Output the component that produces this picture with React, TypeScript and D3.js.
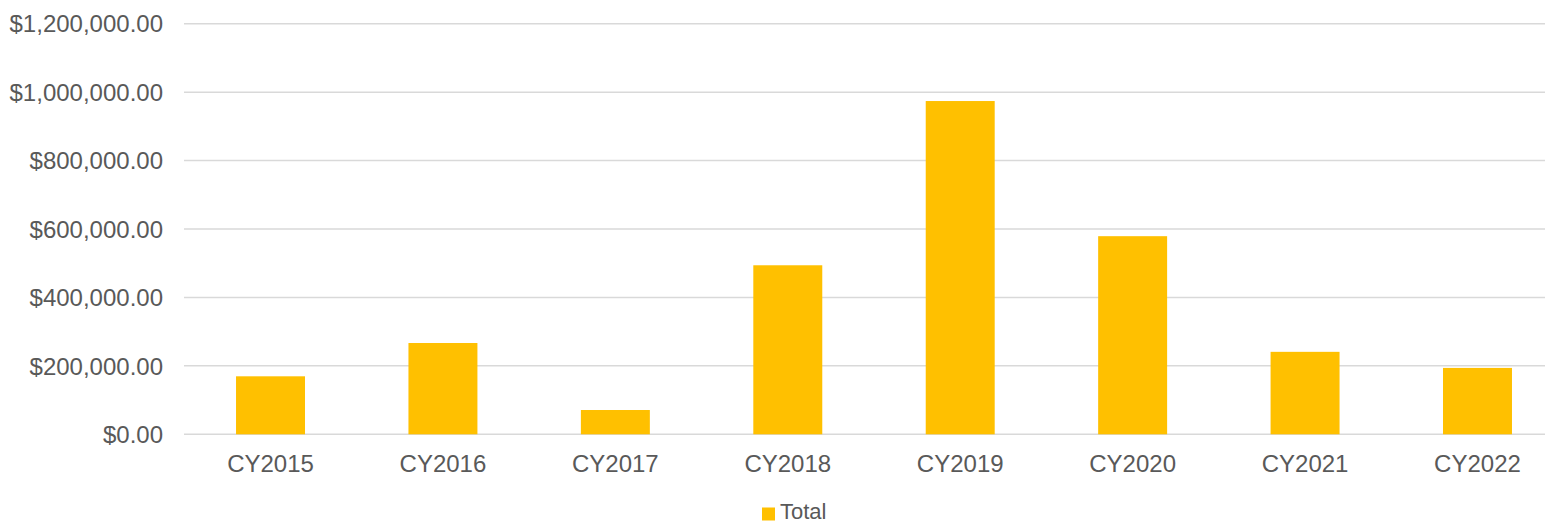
import React from "react";
import * as d3 from "d3";

const categories = ["CY2015", "CY2016", "CY2017", "CY2018", "CY2019", "CY2020", "CY2021", "CY2022"];
const totals = [169500, 266800, 71000, 494000, 974000, 579000, 241000, 194000];
const yTicks = [0, 200000, 400000, 600000, 800000, 1000000, 1200000];
const seriesName = "Total";

const W = 1545;
const H = 523;
const FONT = "'Liberation Sans', Arial, sans-serif";
const TEXT = "#595959";
const GRID = "#D9D9D9";
const BAR = "#FFC000";

export default function App() {
  const x = d3.scaleBand<string>().domain(categories).range([184.3, 1563.7]).paddingInner(0.6).paddingOuter(0.3);
  const y = d3.scaleLinear().domain([0, 1200000]).range([434.3, 23.7]);
  const fmt = (v: number) => "$" + d3.format(",.2f")(v);

  return (
    <svg width={W} height={H} style={{ position: "absolute", left: 0, top: 0, background: "#fff" }} fontFamily={FONT}>
      {yTicks.map((t) => (
        <g key={t}>
          <line x1={184} x2={1565} y1={y(t)} y2={y(t)} stroke={GRID} strokeWidth={1.5} />
          <text x={163} y={y(t)} dy="0.36em" textAnchor="end" fontSize={24} fill={TEXT}>
            {fmt(t)}
          </text>
        </g>
      ))}
      {categories.map((c, i) => (
        <g key={c}>
          <rect x={x(c)} y={y(totals[i])} width={x.bandwidth()} height={y(0) - y(totals[i])} fill={BAR} />
          <text x={(x(c) as number) + x.bandwidth() / 2} y={471.5} textAnchor="middle" fontSize={24} fill={TEXT}>
            {c}
          </text>
        </g>
      ))}
      <rect x={762} y={507.5} width={13} height={13} fill={BAR} />
      <text x={780} y={518.5} fontSize={22} fill={TEXT}>
        {seriesName}
      </text>
    </svg>
  );
}
